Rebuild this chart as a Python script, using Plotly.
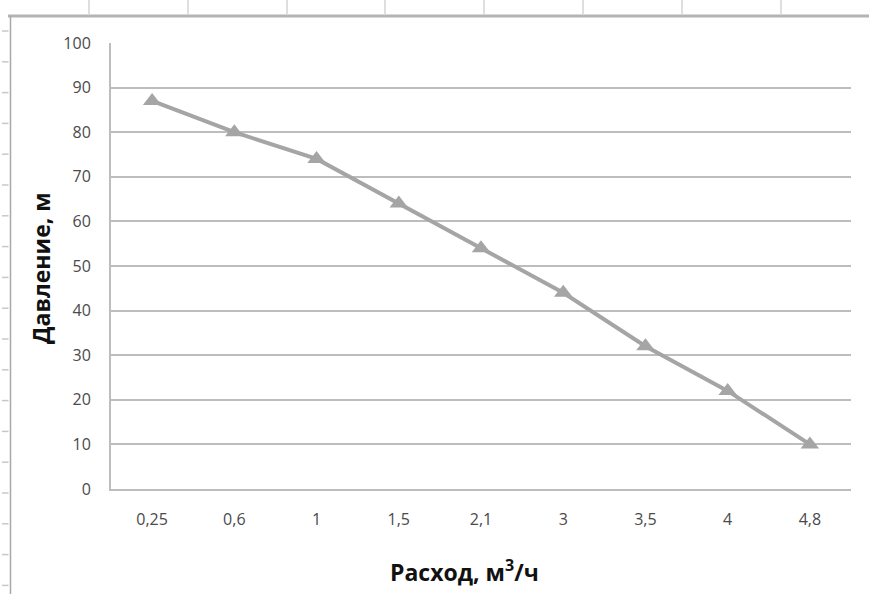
import plotly.graph_objects as go

# Pump curve: flow rate vs. head
flow_labels = ["0,25", "0,6", "1", "1,5", "2,1", "3", "3,5", "4", "4,8"]
pressure = [87, 80, 74, 64, 54, 44, 32, 22, 10]

W, H = 869, 594
L, R, T, B = 111, 18, 43, 105
PW, PH = W - L - R, H - T - B


def px(x):
    return (x - L) / PW


def py(y):
    return (H - B - y) / PH


GRID = "#bdbdbd"
SERIES = "#a5a5a5"
TICK_FONT = dict(family="Open Sans, Noto Sans, sans-serif", size=16, color="#4a4a4a")
TITLE_FONT = dict(family="Open Sans, Noto Sans, sans-serif", size=23, color="#111111")

fig = go.Figure(
    go.Scatter(
        x=flow_labels,
        y=pressure,
        mode="lines+markers",
        line=dict(color=SERIES, width=4),
        marker=dict(symbol="triangle-up", size=16, color=SERIES),
        cliponaxis=False,
        hoverinfo="x+y",
    )
)

# Page frame around the embedded chart: table rule on top, margin rule on the left
shapes = [
    dict(type="line", xref="paper", yref="paper", x0=px(8), x1=px(W + 2), y0=py(16), y1=py(16),
         line=dict(color="#b4b4b4", width=3)),
    dict(type="line", xref="paper", yref="paper", x0=px(10.5), x1=px(10.5), y0=py(16), y1=py(H + 2),
         line=dict(color="#a8a8a8", width=1.5)),
]
for xc in [89, 188, 287, 385, 484, 583, 682, 781]:
    shapes.append(dict(type="line", xref="paper", yref="paper", x0=px(xc), x1=px(xc),
                       y0=py(-2), y1=py(14), line=dict(color="#d4d4d4", width=1.5)))
for k in range(19):
    yc = 31 + k * 30.8
    shapes.append(dict(type="line", xref="paper", yref="paper", x0=px(2), x1=px(8.5),
                       y0=py(yc), y1=py(yc), line=dict(color="#c8c8c8", width=1.5)))

annotations = [
    dict(text="<b>Давление, м</b>", textangle=-90, xref="paper", yref="paper",
         x=px(41), y=py(268), xanchor="center", yanchor="middle", showarrow=False,
         font=TITLE_FONT),
    dict(text="<b>Расход, м<sup>3</sup>/ч</b>", xref="paper", yref="paper",
         x=px(464), y=py(571), xanchor="center", yanchor="middle", showarrow=False,
         font=TITLE_FONT),
]

fig.update_layout(
    width=W,
    height=H,
    margin=dict(l=L, r=R, t=T, b=B, autoexpand=False),
    paper_bgcolor="white",
    plot_bgcolor="white",
    showlegend=False,
    shapes=shapes,
    annotations=annotations,
    xaxis=dict(
        type="category",
        range=[-0.5, len(flow_labels) - 0.5],
        showgrid=False,
        showline=True,
        linecolor=GRID,
        linewidth=2,
        ticks="",
        tickfont=TICK_FONT,
        ticklabelstandoff=15,
        zeroline=False,
        fixedrange=True,
    ),
    yaxis=dict(
        range=[0, 100],
        dtick=10,
        showgrid=True,
        gridcolor=GRID,
        gridwidth=2,
        showline=True,
        linecolor=GRID,
        linewidth=2,
        zeroline=False,
        ticks="",
        tickfont=TICK_FONT,
        ticklabelstandoff=15,
        fixedrange=True,
    ),
)

fig.write_html("out.html")
